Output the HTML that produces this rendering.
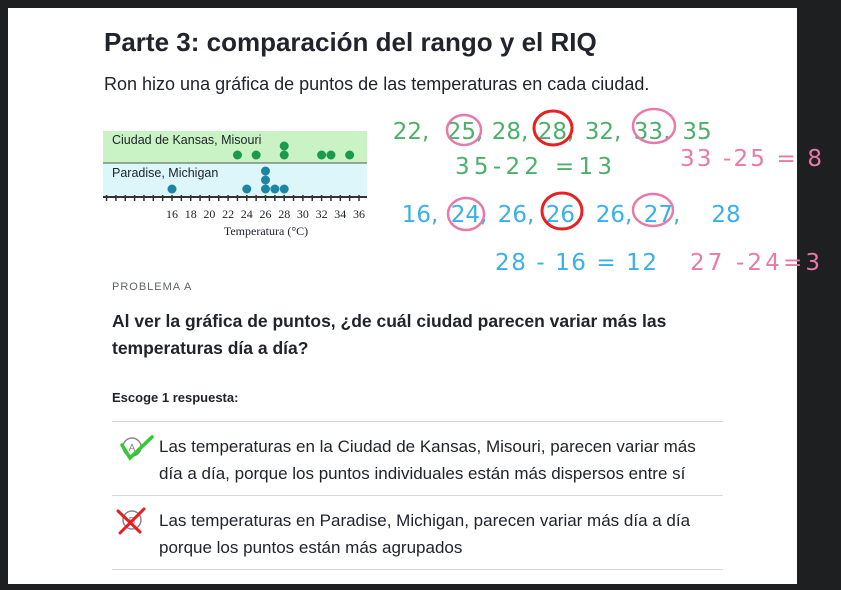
<!DOCTYPE html>
<html><head><meta charset="utf-8">
<style>
body{margin:0;width:841px;height:590px;background:#1e1f21;position:relative;overflow:hidden;font-family:"Liberation Sans",sans-serif;}
#page{position:absolute;left:8px;top:8px;width:789px;height:576px;background:#fff;}
.t{position:absolute;white-space:nowrap;color:#21242c;}
.line{position:absolute;left:112px;width:611px;height:1px;background:#d6d8da;}
</style></head><body>
<div id="page"></div>
<div class="t" style="left:104px;top:27px;font-size:26px;font-weight:bold;">Parte 3: comparación del rango y el RIQ</div>
<div class="t" style="left:104px;top:74px;font-size:18px;">Ron hizo una gráfica de puntos de las temperaturas en cada ciudad.</div>

<svg id="chart" style="position:absolute;left:0;top:0" width="841" height="260"></svg>

<div class="t" style="left:112px;top:281px;font-size:11px;color:#626569;letter-spacing:1px;">PROBLEMA A</div>
<div class="t" style="left:112px;top:308px;font-size:17.5px;font-weight:bold;line-height:27px;">Al ver la gráfica de puntos, ¿de cuál ciudad parecen variar más las<br>temperaturas día a día?</div>
<div class="t" style="left:112px;top:390px;font-size:13px;font-weight:bold;">Escoge 1 respuesta:</div>
<div class="line" style="top:421px"></div>
<div class="line" style="top:495px"></div>
<div class="line" style="top:569px"></div>
<div class="t" style="left:159px;top:433px;font-size:17px;line-height:27px;">Las temperaturas en la Ciudad de Kansas, Misouri, parecen variar más<br>día a día, porque los puntos individuales están más dispersos entre sí</div>
<div class="t" style="left:159px;top:507px;font-size:17px;line-height:27px;">Las temperaturas en Paradise, Michigan, parecen variar más día a día<br>porque los puntos están más agrupados</div>
<svg style="position:absolute;left:110px;top:425px" width="50" height="110">
<circle cx="22" cy="22" r="9" fill="none" stroke="#888" stroke-width="1.5"/><text x="22" y="26" font-size="10" text-anchor="middle" fill="#888">A</text>
<path d="M12 20 L20 33 L42 12" fill="none" stroke="#2ecc2e" stroke-width="3.5" stroke-linecap="round"/>
<circle cx="22" cy="95" r="9" fill="none" stroke="#888" stroke-width="1.5"/><text x="22" y="99" font-size="10" text-anchor="middle" fill="#888">B</text>
<path d="M8 86 L30 107 M34 84 L10 108" fill="none" stroke="#e32020" stroke-width="3" stroke-linecap="round"/>
</svg>

<svg style="position:absolute;left:0;top:0" width="841" height="280" font-family="DejaVu Sans" font-size="23">
<g fill="#4caf6a" text-anchor="middle">
<text x="411" y="139">22,</text><text x="465" y="139">25,</text><text x="510" y="139">28,</text><text x="556" y="139">28,</text><text x="603" y="139">32,</text><text x="652" y="139">33,</text><text x="697" y="139">35</text>
</g>
<text x="455" y="174" textLength="157" fill="#4caf6a">35-22 =13</text>
<text x="680" y="166" textLength="142" fill="#e879a8">33 -25 = 8</text>
<g fill="#3ab0e8" text-anchor="middle">
<text x="420" y="222">16,</text><text x="469" y="222">24,</text><text x="516" y="222">26,</text><text x="564" y="222">26,</text><text x="614" y="222">26,</text><text x="662" y="222">27,</text><text x="726" y="222">28</text>
</g>
<text x="495" y="270" textLength="162" fill="#3ab0e8">28 - 16 = 12</text>
<text x="690" y="270" textLength="130" fill="#e879a8">27 -24=3</text>
<ellipse cx="464" cy="130" rx="17" ry="15" fill="none" stroke="#e879a8" stroke-width="2.5"/>
<ellipse cx="553" cy="128" rx="19" ry="17" fill="none" stroke="#e82020" stroke-width="3"/>
<ellipse cx="654" cy="126" rx="21" ry="17" fill="none" stroke="#e879a8" stroke-width="2.5"/>
<ellipse cx="466" cy="214" rx="18" ry="16" fill="none" stroke="#e879a8" stroke-width="2.5"/>
<ellipse cx="562" cy="211" rx="20" ry="18" fill="none" stroke="#e82020" stroke-width="3"/>
<ellipse cx="653" cy="210" rx="20" ry="16" fill="none" stroke="#e879a8" stroke-width="2.5"/>
</svg>

<script>
const kansas=[23,25,28,28,32,33,35];
const michigan=[16,24,26,26,26,27,28];
const tickLabels=[16,18,20,22,24,26,28,30,32,34,36];
const NS='http://www.w3.org/2000/svg';
const svg=document.getElementById('chart');
const x=v=>172+(v-16)*9.35;
function mk(t,a){const e=document.createElementNS(NS,t);for(const k in a)e.setAttribute(k,a[k]);svg.appendChild(e);return e;}
let r=mk('rect',{x:103,y:131,width:264,height:32,fill:'#c9f3c4'});


r=mk('rect',{x:103,y:163,width:264,height:34,fill:'#dcf6fa'});


mk('line',{x1:103,x2:367,y1:163,y2:163,stroke:'#555','stroke-width':1});
mk('line',{x1:103,x2:367,y1:197,y2:197,stroke:'#333','stroke-width':2});
let t=mk('text',{x:112,y:144,'font-size':12.5,fill:'#21242c','font-family':'Liberation Sans'});t.textContent='Ciudad de Kansas, Misouri';


t=mk('text',{x:112,y:177,'font-size':12.5,fill:'#21242c','font-family':'Liberation Sans'});t.textContent='Paradise, Michigan';


for(let v=9;v<=36;v++){mk('line',{x1:x(v),x2:x(v),y1:195,y2:201,stroke:'#333','stroke-width':1.5});}
tickLabels.forEach(v=>{const e=mk('text',{x:x(v),y:218,'font-size':12,'text-anchor':'middle',fill:'#21242c','font-family':'Liberation Serif'});e.textContent=v;

});
t=mk('text',{x:266,y:235,'font-size':12,'text-anchor':'middle',fill:'#21242c','font-family':'Liberation Serif'});t.textContent='Temperatura (°C)';


function dots(arr,base,col,name){const c={};arr.forEach(v=>{c[v]=(c[v]||0);const d=mk('circle',{cx:x(v),cy:base-c[v]*9,r:4.5,fill:col});c[v]++;

});}
dots(kansas,155,'#1a9a4a','kansas-dot');
dots(michigan,189,'#1b85a6','michigan-dot');
</script>
</body></html>
